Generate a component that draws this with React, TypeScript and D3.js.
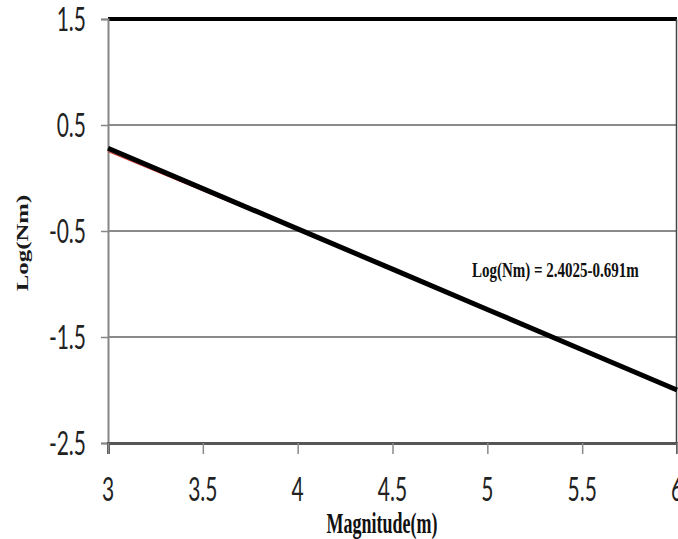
import React, { useEffect, useRef } from "react";
import * as d3 from "d3";

// magnitude values along the x axis
const magnitudes = [3, 3.5, 4, 4.5, 5, 5.5, 6];
// fitted line (thick black)
const fitValues = [0.28, -0.1, -0.48, -0.86, -1.24, -1.62, -2.0];
// observed series (thin red, mostly hidden under the fit)
const obsValues = [0.25, -0.12, -0.49, -0.87, -1.25, -1.62, -2.0];

const xTicks = [3, 3.5, 4, 4.5, 5, 5.5, 6];
const yTicks = [1.5, 0.5, -0.5, -1.5, -2.5];
const equationLabel = "Log(Nm) = 2.4025-0.691m";

const App = () => {
  const svgRef = useRef<SVGSVGElement>(null);

  useEffect(() => {
    const width = 678;
    const height = 539;
    const left = 108;
    const right = 677;
    const top = 19;
    const bottom = 443;

    const svg = d3.select(svgRef.current);
    svg.selectAll("*").remove();
    svg.attr("width", width).attr("height", height);

    const x = d3.scaleLinear().domain([3, 6]).range([left, right]);
    const y = d3.scaleLinear().domain([-2.5, 1.5]).range([bottom, top]);

    // gridlines
    svg.append("g")
      .selectAll("line")
      .data(yTicks.filter(v => v !== 1.5 && v !== -2.5))
      .enter()
      .append("line")
      .attr("x1", left)
      .attr("x2", right)
      .attr("y1", d => y(d))
      .attr("y2", d => y(d))
      .attr("stroke", "#8a8a8a")
      .attr("stroke-width", 2);

    // thick top line at 1.5
    svg.append("line")
      .attr("x1", left)
      .attr("x2", right)
      .attr("y1", y(1.5))
      .attr("y2", y(1.5))
      .attr("stroke", "#000")
      .attr("stroke-width", 4);

    // right border
    svg.append("line")
      .attr("x1", right - 0.5)
      .attr("x2", right - 0.5)
      .attr("y1", y(1.5))
      .attr("y2", y(-2.5))
      .attr("stroke", "#444")
      .attr("stroke-width", 1.5);

    // left axis
    const yAxis = svg.append("g")
      .attr("transform", `translate(${left},0)`)
      .call(d3.axisLeft(y).tickValues(yTicks).tickSize(7).tickFormat(() => ""));
    yAxis.select(".domain").attr("stroke", "#868686").attr("stroke-width", 2);
    yAxis.selectAll(".tick line").attr("stroke", "#868686").attr("stroke-width", 1.5);

    // bottom axis
    const xAxis = svg.append("g")
      .attr("transform", `translate(0,${bottom})`)
      .call(d3.axisBottom(x).tickValues(xTicks).tickSize(11).tickFormat(() => ""));
    xAxis.select(".domain").attr("stroke", "#555").attr("stroke-width", 3);
    xAxis.selectAll(".tick line").attr("stroke", "#8a8a8a").attr("stroke-width", 1.5);

    // tick labels (stretched vertically like the source image)
    svg.append("g")
      .selectAll("g")
      .data(yTicks)
      .enter()
      .append("g")
      .attr("transform", d => `translate(86,${y(d)}) scale(1,1.55)`)
      .append("text")
      .attr("text-anchor", "end")
      .attr("dy", "0.36em")
      .style("font-family", "Lato, 'Open Sans', sans-serif")
      .style("font-size", "21px")
      .attr("fill", "#222")
      .text(d => String(d));

    svg.append("g")
      .selectAll("g")
      .data(xTicks)
      .enter()
      .append("g")
      .attr("transform", d => `translate(${x(d)},489) scale(1,1.55)`)
      .append("text")
      .attr("text-anchor", "middle")
      .attr("dy", "0.36em")
      .style("font-family", "Lato, 'Open Sans', sans-serif")
      .style("font-size", "21px")
      .attr("fill", "#222")
      .text(d => String(d));

    // axis titles
    svg.append("g")
      .attr("transform", "translate(382,533) scale(1,1.6)")
      .append("text")
      .attr("text-anchor", "middle")
      .style("font-family", "'Liberation Serif', 'Times New Roman', serif")
      .style("font-weight", "bold")
      .style("font-size", "18px")
      .attr("fill", "#111")
      .text("Magnitude(m)");

    svg.append("g")
      .attr("transform", "translate(28,243) rotate(-90) scale(1.55,1)")
      .append("text")
      .attr("text-anchor", "middle")
      .style("font-family", "'Liberation Serif', 'Times New Roman', serif")
      .style("font-weight", "bold")
      .style("font-size", "16px")
      .attr("fill", "#1a1a1a")
      .text("Log(Nm)");

    // lines
    const line = d3.line<number>()
      .x((_, i) => x(magnitudes[i]))
      .y(d => y(d));

    svg.append("path")
      .datum(obsValues)
      .attr("d", line)
      .attr("fill", "none")
      .attr("stroke", "#d0302a")
      .attr("stroke-width", 1.2);

    svg.append("path")
      .datum(fitValues)
      .attr("d", line)
      .attr("fill", "none")
      .attr("stroke", "#000")
      .attr("stroke-width", 5);

    // equation
    svg.append("g")
      .attr("transform", "translate(472,277) scale(1,1.4)")
      .append("text")
      .style("font-family", "'Liberation Serif', 'Times New Roman', serif")
      .style("font-weight", "bold")
      .style("font-size", "15px")
      .attr("fill", "#111")
      .text(equationLabel);
  }, []);

  return (
    <div style={{ position: "absolute", left: 0, top: 0, width: 678, height: 539, background: "#fff" }}>
      <svg ref={svgRef} style={{ display: "block" }}></svg>
    </div>
  );
};

export default App;
